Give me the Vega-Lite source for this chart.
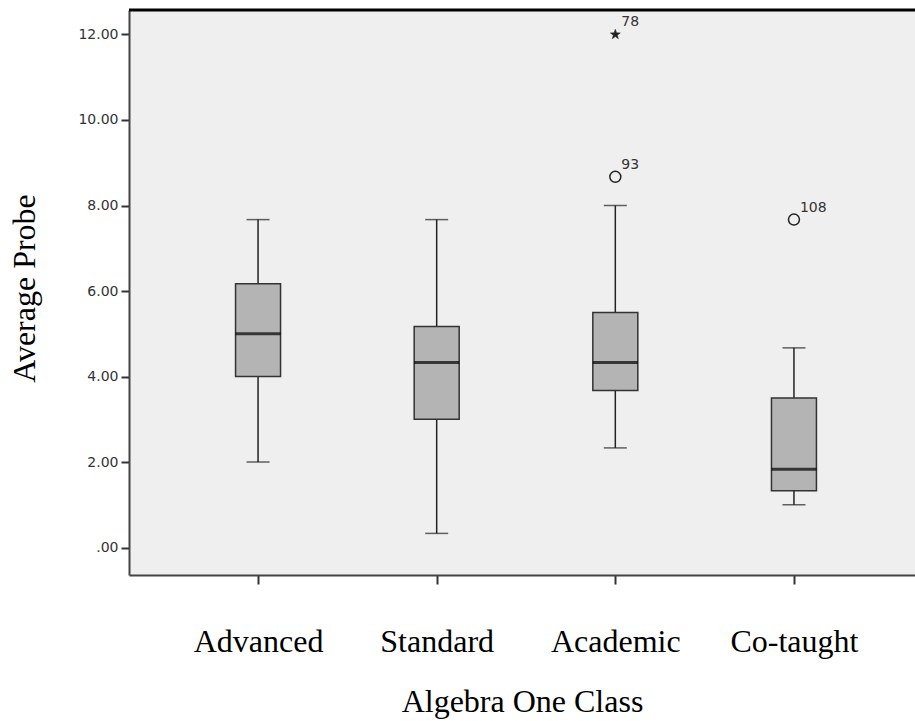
{
  "$schema": "https://vega.github.io/schema/vega-lite/v6.json",
  "width": 786,
  "height": 565,
  "autosize": "none",
  "padding": {"left": 129, "top": 10, "right": 0, "bottom": 146},
  "background": "white",
  "config": {
    "view": {"fill": "#efefef", "stroke": null},
    "axis": {"grid": false}
  },
  "datasets": {
    "boxes": [
      {"cls": "Advanced", "low": 2.0, "q1": 4.0, "median": 5.0, "q3": 6.17, "high": 7.67},
      {"cls": "Standard", "low": 0.33, "q1": 3.0, "median": 4.33, "q3": 5.17, "high": 7.67},
      {"cls": "Academic", "low": 2.33, "q1": 3.67, "median": 4.33, "q3": 5.5, "high": 8.0},
      {"cls": "Co-taught", "low": 1.0, "q1": 1.33, "median": 1.83, "q3": 3.5, "high": 4.67}
    ],
    "outliers": [
      {"cls": "Academic", "value": 12.0, "case": "78", "kind": "extreme"},
      {"cls": "Academic", "value": 8.67, "case": "93", "kind": "outlier"},
      {"cls": "Co-taught", "value": 7.67, "case": "108", "kind": "outlier"}
    ],
    "frame": [{"top": 12.573}]
  },
  "layer": [
    {
      "data": {"name": "boxes"},
      "mark": {"type": "rule", "color": "#222", "strokeWidth": 1.5},
      "encoding": {
        "x": {
          "field": "cls", "type": "nominal", "sort": null,
          "scale": {"type": "point", "padding": 0.7, "align": 0.516},
          "axis": {
            "orient": "bottom",
            "title": "Algebra One Class",
            "labelFont": "Liberation Serif", "labelFontSize": 32, "labelColor": "black",
            "labelAngle": 0, "labelBaseline": "alphabetic", "labelPadding": 67,
            "tickSize": 9, "tickWidth": 2, "tickColor": "#333",
            "domainColor": "#444", "domainWidth": 2,
            "titleFont": "Liberation Serif", "titleFontSize": 32, "titleFontWeight": "normal",
            "titleColor": "black", "titleBaseline": "alphabetic", "titleY": 136
          }
        },
        "y": {
          "field": "low", "type": "quantitative",
          "scale": {"domain": [-0.643, 12.573], "nice": false, "zero": false},
          "axis": {
            "title": "Average Probe",
            "values": [0, 2, 4, 6, 8, 10, 12],
            "labelExpr": "datum.value == 0 ? '.00' : format(datum.value, '.2f')",
            "labelFont": "DejaVu Sans", "labelFontSize": 14, "labelColor": "#333",
            "labelPadding": 3,
            "tickSize": 8, "tickWidth": 2, "tickColor": "#333",
            "domainColor": "#444", "domainWidth": 2,
            "titleFont": "Liberation Serif", "titleFontSize": 32, "titleFontWeight": "normal",
            "titleColor": "black", "titleX": -105, "titleY": 278, "titleAngle": -90,
            "titleAlign": "center", "titleBaseline": "middle"
          }
        },
        "y2": {"field": "high"}
      }
    },
    {
      "data": {"name": "boxes"},
      "mark": {"type": "tick", "color": "#222", "size": 23, "thickness": 1.5},
      "encoding": {
        "x": {"field": "cls", "type": "nominal", "sort": null},
        "y": {"field": "low", "type": "quantitative"}
      }
    },
    {
      "data": {"name": "boxes"},
      "mark": {"type": "tick", "color": "#222", "size": 23, "thickness": 1.5},
      "encoding": {
        "x": {"field": "cls", "type": "nominal", "sort": null},
        "y": {"field": "high", "type": "quantitative"}
      }
    },
    {
      "data": {"name": "boxes"},
      "mark": {"type": "bar", "width": 45, "fill": "#b4b4b4", "stroke": "#333", "strokeWidth": 1.5},
      "encoding": {
        "x": {"field": "cls", "type": "nominal", "sort": null},
        "y": {"field": "q1", "type": "quantitative"},
        "y2": {"field": "q3"}
      }
    },
    {
      "data": {"name": "boxes"},
      "mark": {"type": "tick", "color": "black", "size": 45, "thickness": 3},
      "encoding": {
        "x": {"field": "cls", "type": "nominal", "sort": null},
        "y": {"field": "median", "type": "quantitative"}
      }
    },
    {
      "data": {"name": "outliers"},
      "transform": [{"filter": "datum.kind == 'outlier'"}],
      "mark": {"type": "point", "shape": "circle", "filled": false, "size": 121, "stroke": "#222", "strokeWidth": 1.5, "opacity": 1},
      "encoding": {
        "x": {"field": "cls", "type": "nominal", "sort": null},
        "y": {"field": "value", "type": "quantitative"}
      }
    },
    {
      "data": {"name": "outliers"},
      "transform": [{"filter": "datum.kind == 'extreme'"}],
      "mark": {"type": "point", "shape": "M0,-1L0.235,-0.324L0.951,-0.309L0.38,0.124L0.588,0.809L0,0.4L-0.588,0.809L-0.38,0.124L-0.951,-0.309L-0.235,-0.324Z", "filled": true, "size": 110, "fill": "#222", "stroke": "#222", "strokeWidth": 0.5, "opacity": 1},
      "encoding": {
        "x": {"field": "cls", "type": "nominal", "sort": null},
        "y": {"field": "value", "type": "quantitative"}
      }
    },
    {
      "data": {"name": "outliers"},
      "mark": {"type": "text", "align": "left", "baseline": "alphabetic", "dx": 6, "dy": -8, "font": "DejaVu Sans", "fontSize": 14, "color": "#333"},
      "encoding": {
        "x": {"field": "cls", "type": "nominal", "sort": null},
        "y": {"field": "value", "type": "quantitative"},
        "text": {"field": "case"}
      }
    },
    {
      "data": {"name": "frame"},
      "mark": {"type": "rule", "color": "black", "strokeWidth": 3},
      "encoding": {
        "y": {"field": "top", "type": "quantitative"}
      }
    }
  ]
}
